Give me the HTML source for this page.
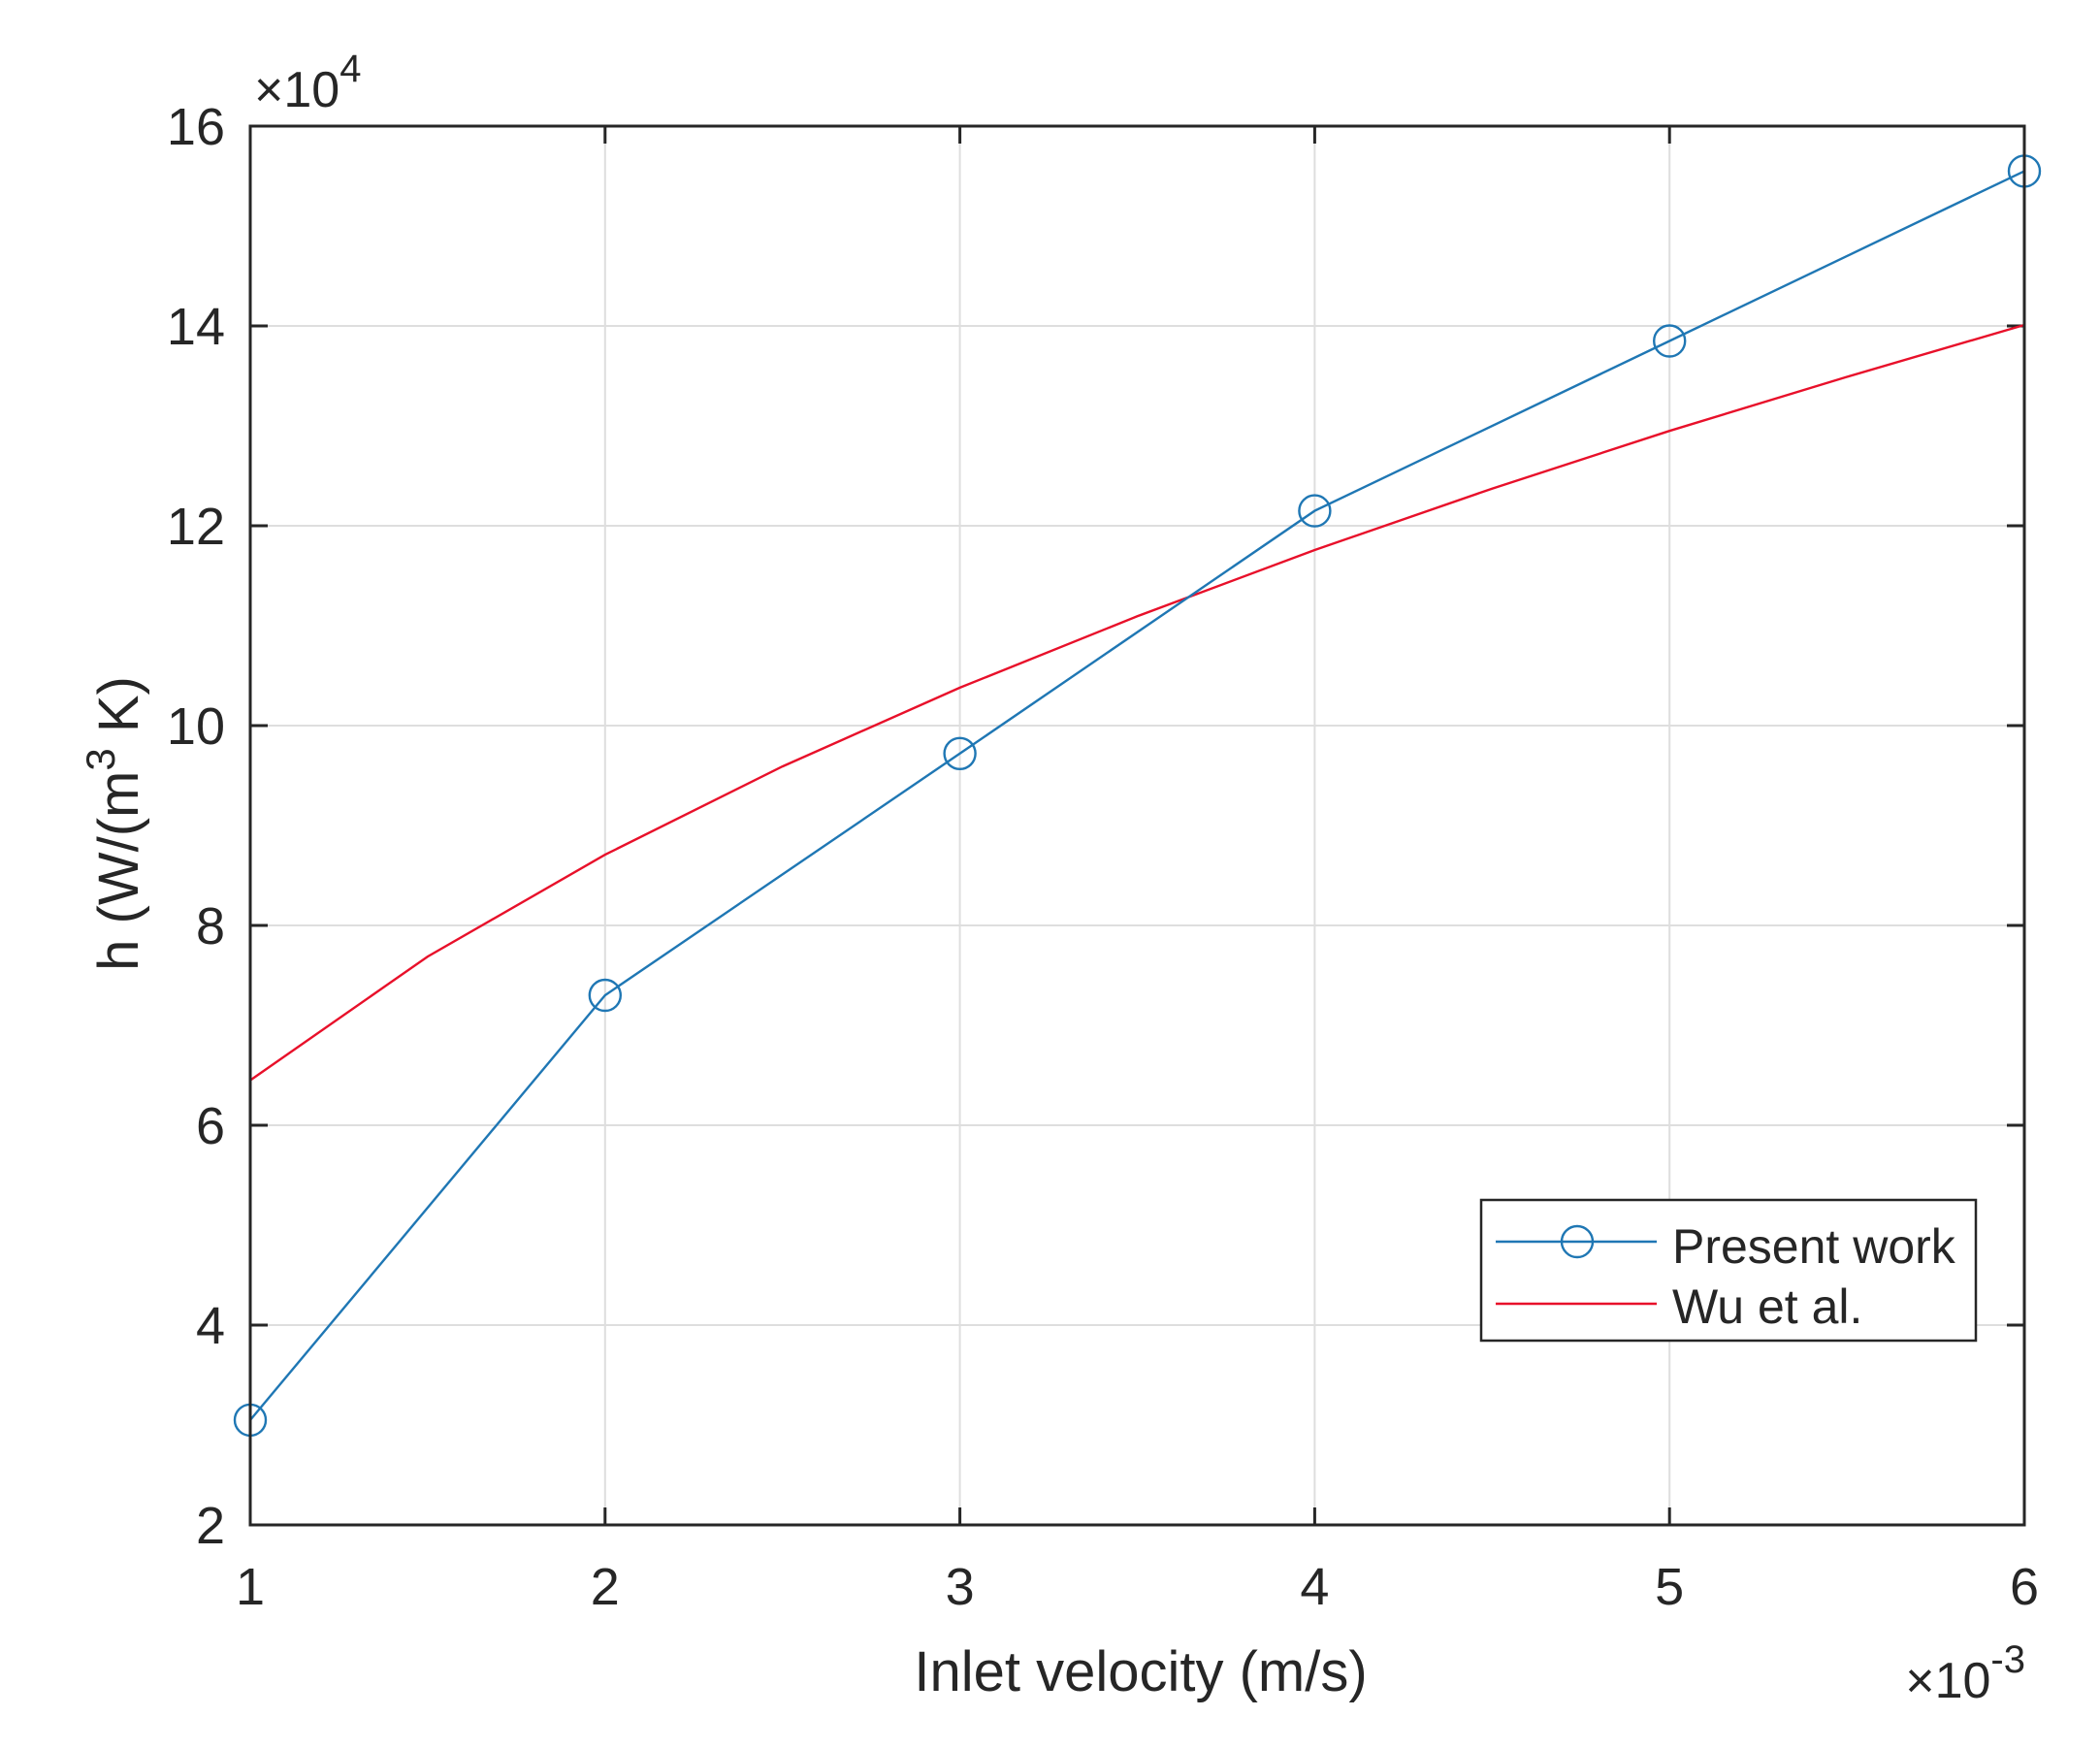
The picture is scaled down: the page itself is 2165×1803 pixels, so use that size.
<!DOCTYPE html>
<html><head><style>body{margin:0;background:#fff}svg{display:block}text{font-family:"Liberation Sans",Arial,sans-serif;fill:#262626}</style></head>
<body>
<svg width="2165" height="1803" viewBox="0 0 2165 1803" xmlns="http://www.w3.org/2000/svg">
<rect width="2165" height="1803" fill="#fff"/>
<g stroke="#dedede" stroke-width="2">
<line x1="623.8" y1="130" x2="623.8" y2="1572"/><line x1="989.6" y1="130" x2="989.6" y2="1572"/><line x1="1355.4" y1="130" x2="1355.4" y2="1572"/><line x1="1721.2" y1="130" x2="1721.2" y2="1572"/>
<line x1="258" y1="336" x2="2087" y2="336"/><line x1="258" y1="542" x2="2087" y2="542"/><line x1="258" y1="748" x2="2087" y2="748"/><line x1="258" y1="954" x2="2087" y2="954"/><line x1="258" y1="1160" x2="2087" y2="1160"/><line x1="258" y1="1366" x2="2087" y2="1366"/>
</g>
<g stroke="#262626" stroke-width="3">
<path d="M623.8 130v18M989.6 130v18M1355.4 130v18M1721.2 130v18M623.8 1572v-18M989.6 1572v-18M1355.4 1572v-18M1721.2 1572v-18"/>
<path d="M258 336h18M258 542h18M258 748h18M258 954h18M258 1160h18M258 1366h18M2087 336h-18M2087 542h-18M2087 748h-18M2087 954h-18M2087 1160h-18M2087 1366h-18"/>
</g>
<polyline fill="none" stroke="#e8102a" stroke-width="2.4" points="258,1113.6 440.9,986.1 623.8,881.1 806.7,790.1 989.6,708.9 1172.5,635.3 1355.4,567 1538.3,503.7 1721.2,444.2 1904.1,388.5 2087,335"/>
<polyline fill="none" stroke="#1f77b4" stroke-width="2.4" points="258,1463.9 623.8,1026 989.6,776.8 1355.4,526.6 1721.2,351.5 2087,176.4"/>
<g fill="none" stroke="#1f77b4" stroke-width="2.4">
<circle cx="258" cy="1463.9" r="16"/><circle cx="623.8" cy="1026" r="16"/><circle cx="989.6" cy="776.8" r="16"/><circle cx="1355.4" cy="526.6" r="16"/><circle cx="1721.2" cy="351.5" r="16"/><circle cx="2087" cy="176.4" r="16"/>
</g>
<rect x="258" y="130" width="1829" height="1442" fill="none" stroke="#262626" stroke-width="3"/>
<g font-size="54" text-anchor="end">
<text x="232" y="149">16</text><text x="232" y="355">14</text><text x="232" y="561">12</text><text x="232" y="767">10</text><text x="232" y="973">8</text><text x="232" y="1179">6</text><text x="232" y="1385">4</text><text x="232" y="1591">2</text>
</g>
<g font-size="54" text-anchor="middle">
<text x="258" y="1654">1</text><text x="623.8" y="1654">2</text><text x="989.6" y="1654">3</text><text x="1355.4" y="1654">4</text><text x="1721.2" y="1654">5</text><text x="2087" y="1654">6</text>
</g>
<text x="262" y="110" font-size="52">×10<tspan font-size="40" dy="-26">4</tspan></text>
<text x="2088" y="1750" font-size="52" text-anchor="end">×10<tspan font-size="40" dy="-26">-3</tspan></text>
<text x="1176" y="1743" font-size="58" text-anchor="middle">Inlet velocity (m/s)</text>
<text transform="translate(142,849) rotate(-90)" font-size="58" text-anchor="middle">h (W/(m<tspan font-size="42" dy="-24">3</tspan><tspan dy="24"> K)</tspan></text>
<rect x="1527" y="1237" width="510" height="145" fill="#fff" stroke="#262626" stroke-width="2.5"/>
<line x1="1542" y1="1280" x2="1708" y2="1280" stroke="#1f77b4" stroke-width="2.4"/>
<circle cx="1626" cy="1280" r="16" fill="none" stroke="#1f77b4" stroke-width="2.4"/>
<line x1="1542" y1="1344" x2="1708" y2="1344" stroke="#e8102a" stroke-width="2.4"/>
<text x="1724" y="1302" font-size="50">Present work</text>
<text x="1724" y="1364" font-size="50">Wu et al.</text>
</svg>
</body></html>
